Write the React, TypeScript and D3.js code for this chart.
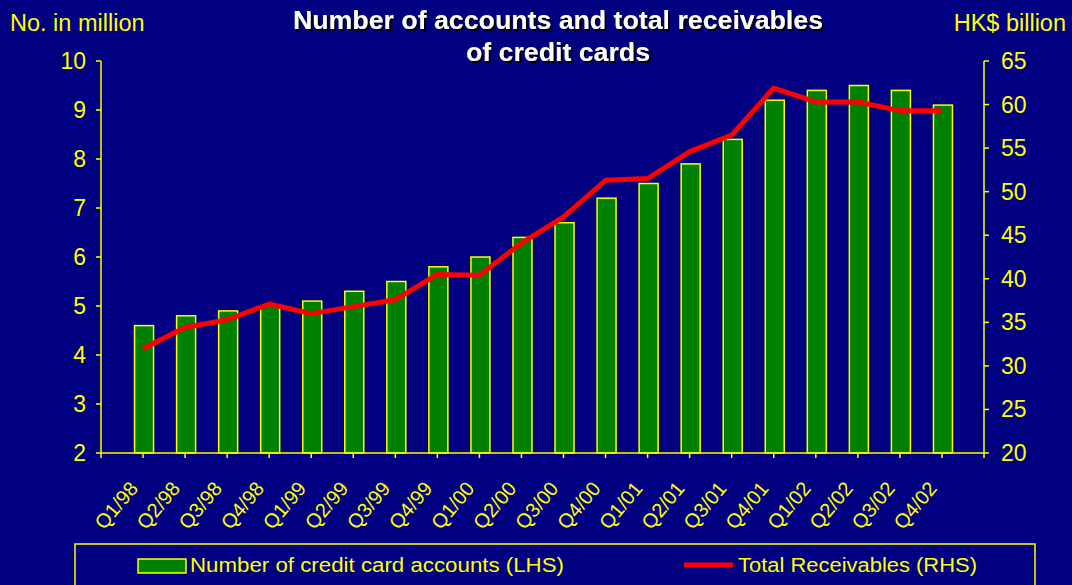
import React from "react";
import * as d3 from "d3";

const categories = ["Q1/98","Q2/98","Q3/98","Q4/98","Q1/99","Q2/99","Q3/99","Q4/99","Q1/00","Q2/00","Q3/00","Q4/00","Q1/01","Q2/01","Q3/01","Q4/01","Q1/02","Q2/02","Q3/02","Q4/02"];
const accounts = [4.6,4.8,4.9,5.0,5.1,5.3,5.5,5.8,6.0,6.4,6.7,7.2,7.5,7.9,8.4,9.2,9.4,9.5,9.4,9.1];
const receivables = [32.0,34.4,35.3,37.1,36.0,36.8,37.6,40.5,40.4,44.1,47.1,51.3,51.5,54.6,56.5,61.9,60.3,60.3,59.3,59.3];
const leftTicks = [2,3,4,5,6,7,8,9,10];
const rightTicks = [20,25,30,35,40,45,50,55,60,65];

const W = 1072, H = 585;
const X0 = 101, X1 = 984, YT = 61, YB = 453;
const YELLOW = "#ffff00";
const BG = "#000080";
const FONT = "'Liberation Sans', Arial, sans-serif";

export default function App() {
  const x = d3.scalePoint<string>().domain(categories).range([X0, X1]).padding(1);
  const yL = d3.scaleLinear().domain([2, 10]).range([YB, YT]);
  const yR = d3.scaleLinear().domain([20, 65]).range([YB, YT]);
  const step = x.step();
  const barW = 19;
  const line = d3.line<number>().x((_, i) => x(categories[i])!).y(d => yR(d));
  const xTicks = d3.range(0, categories.length + 2).map(i => X0 + i * step);

  return (
    <svg width={W} height={H} style={{ position: "absolute", left: 0, top: 0 }} fontFamily={FONT}>
      <defs>
        <filter id="sh" x="-10%" y="-10%" width="120%" height="140%">
          <feDropShadow dx="2" dy="2" stdDeviation="0.5" floodColor="#000000" floodOpacity="1" />
        </filter>
      </defs>
      <rect x={0} y={0} width={W} height={H} fill={BG} />
      <g filter="url(#sh)" fill="#ffffff" fontWeight="bold" fontSize={25} textAnchor="middle">
        <text x={558} y={29} textLength={530} lengthAdjust="spacingAndGlyphs">Number of accounts and total receivables</text>
        <text x={558} y={61} textLength={184} lengthAdjust="spacingAndGlyphs">of credit cards</text>
      </g>
      <text x={10} y={31} fill={YELLOW} fontSize={23.5}>No. in million</text>
      <text x={1066} y={31} fill={YELLOW} fontSize={23.5} textAnchor="end">HK$ billion</text>

      {/* bars */}
      {accounts.map((v, i) => (
        <rect key={i} x={x(categories[i])! - barW / 2 + 1} y={yL(v)} width={barW} height={YB - yL(v)}
          fill="#008000" stroke={YELLOW} strokeWidth={1.5} />
      ))}

      {/* left axis */}
      <line x1={X0} x2={X0} y1={YT} y2={YB} stroke={YELLOW} strokeWidth={1.5} />
      {leftTicks.map(t => (
        <g key={t}>
          <line x1={X0 - 5} x2={X0} y1={yL(t)} y2={yL(t)} stroke={YELLOW} strokeWidth={1.5} />
          <text x={86} y={yL(t) + 8} fill={YELLOW} fontSize={23} textAnchor="end">{t}</text>
        </g>
      ))}
      {/* right axis */}
      <line x1={X1} x2={X1} y1={YT} y2={YB} stroke={YELLOW} strokeWidth={1.5} />
      {rightTicks.map(t => (
        <g key={t}>
          <line x1={X1} x2={X1 + 5} y1={yR(t)} y2={yR(t)} stroke={YELLOW} strokeWidth={1.5} />
          <text x={1001} y={yR(t) + 8} fill={YELLOW} fontSize={23}>{t}</text>
        </g>
      ))}
      {/* x axis */}
      <line x1={X0} x2={X1} y1={YB} y2={YB} stroke={YELLOW} strokeWidth={1.5} />
      {xTicks.map((tx, i) => (
        <line key={i} x1={tx} x2={tx} y1={YB} y2={YB + 5} stroke={YELLOW} strokeWidth={1.5} />
      ))}
      {categories.map(c => (
        <text key={c} transform={`translate(${x(c)! - 4},${YB + 36}) rotate(-50)`} fill={YELLOW}
          fontSize={20} textAnchor="end">{c}</text>
      ))}

      {/* line */}
      <path d={line(receivables) || ""} fill="none" stroke="#ff0000" strokeWidth={5} strokeLinejoin="round" />

      {/* legend */}
      <rect x={75} y={544} width={960} height={60} fill="none" stroke={YELLOW} strokeWidth={1.5} />
      <rect x={138} y={559} width={48} height={14} fill="#008000" stroke={YELLOW} strokeWidth={1.5} />
      <text x={190} y={572} fill={YELLOW} fontSize={20} textLength={374} lengthAdjust="spacingAndGlyphs">Number of credit card accounts (LHS)</text>
      <line x1={684} x2={733} y1={565} y2={565} stroke="#ff0000" strokeWidth={5} />
      <text x={738} y={572} fill={YELLOW} fontSize={20} textLength={239} lengthAdjust="spacingAndGlyphs">Total Receivables (RHS)</text>
    </svg>
  );
}
